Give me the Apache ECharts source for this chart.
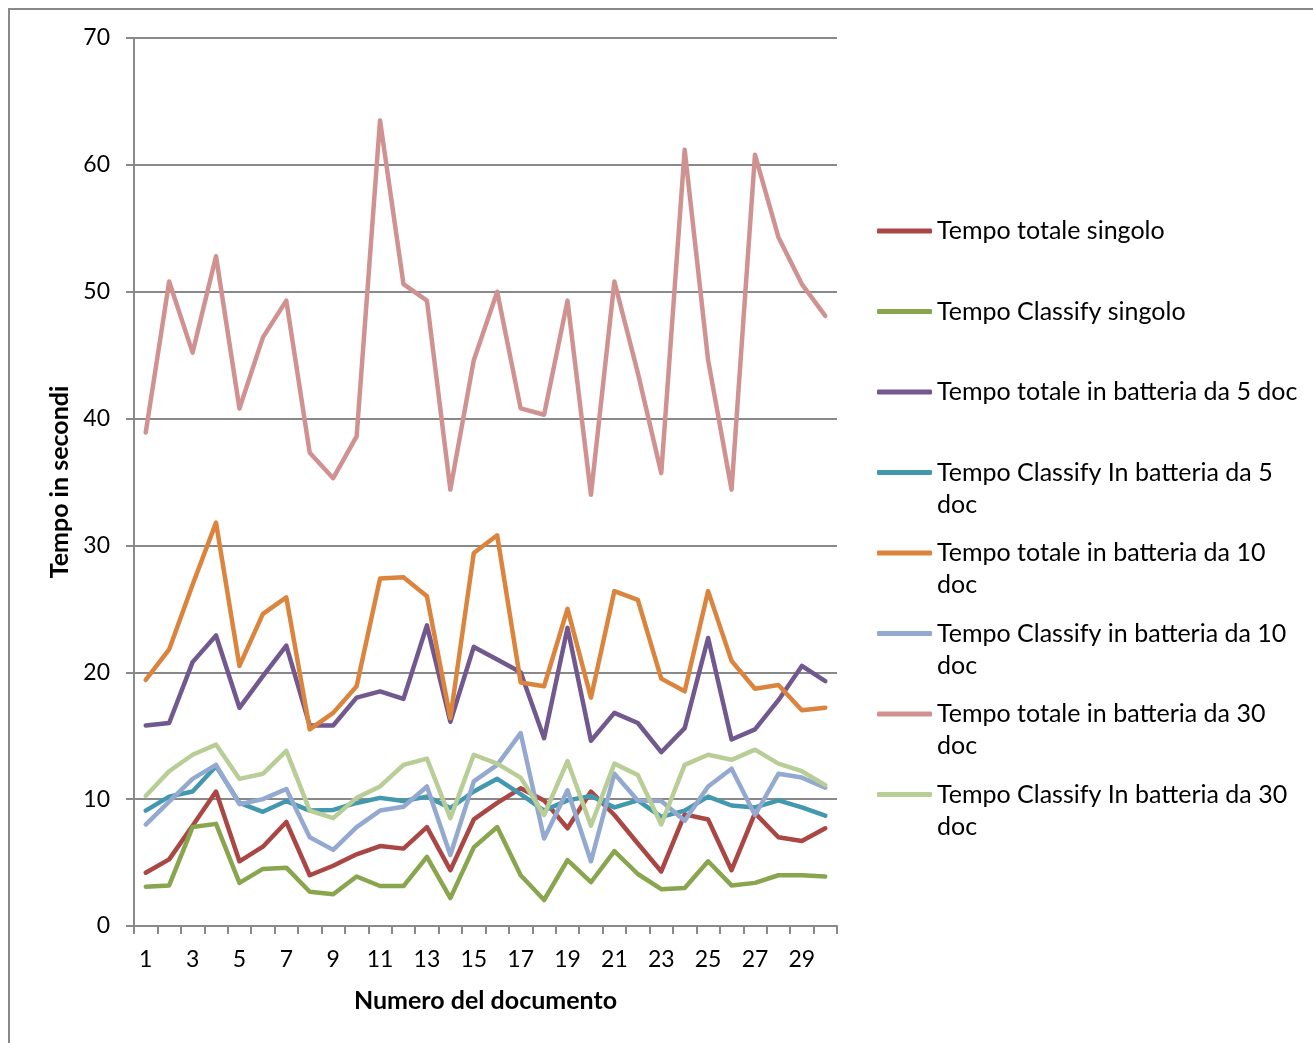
<!DOCTYPE html>
<html>
<head>
<meta charset="utf-8">
<script src="https://cdn.jsdelivr.net/npm/echarts@6/dist/echarts.min.js"></script>
<style>
html,body{margin:0;padding:0;background:#fff;}
#chart{width:1313px;height:1043px;}
</style>
</head>
<body>
<div id="chart"></div>
<script>
const categories = ['1','2','3','4','5','6','7','8','9','10','11','12','13','14','15','16','17','18','19','20','21','22','23','24','25','26','27','28','29','30'];

const seriesNames = [
  'Tempo totale singolo',
  'Tempo Classify singolo',
  'Tempo totale in batteria da 5 doc',
  'Tempo Classify In batteria da 5 doc',
  'Tempo totale in batteria da 10 doc',
  'Tempo Classify in batteria da 10 doc',
  'Tempo totale in batteria da 30 doc',
  'Tempo Classify In batteria da 30 doc'
];

// legend text, wrapped as in the reference
const legendLabels = [
  'Tempo totale singolo',
  'Tempo Classify singolo',
  'Tempo totale in batteria da 5 doc',
  'Tempo Classify In batteria da 5\ndoc',
  'Tempo totale in batteria da 10\ndoc',
  'Tempo Classify in batteria da 10\ndoc',
  'Tempo totale in batteria da 30\ndoc',
  'Tempo Classify In batteria da 30\ndoc'
];

const totaleSingolo = [4.2,5.25,7.9,10.6,5.1,6.25,8.2,4.0,4.75,5.65,6.3,6.1,7.8,4.4,8.4,9.7,10.85,9.9,7.7,10.6,8.75,6.5,4.3,8.8,8.4,4.4,8.9,7.0,6.7,7.7];
const classifySingolo = [3.1,3.2,7.8,8.05,3.4,4.5,4.6,2.7,2.5,3.9,3.15,3.15,5.45,2.2,6.2,7.8,4.0,2.05,5.2,3.45,5.9,4.1,2.9,3.0,5.1,3.2,3.4,4.0,4.0,3.9];
const totale5 = [15.8,16.0,20.8,22.9,17.2,19.7,22.1,15.8,15.8,18.0,18.5,17.9,23.7,16.1,22.0,21.0,20.0,14.8,23.5,14.6,16.8,16.0,13.7,15.6,22.7,14.7,15.5,17.8,20.5,19.3];
const classify5 = [9.1,10.2,10.6,12.6,9.7,9.0,9.85,9.1,9.15,9.7,10.1,9.85,10.2,9.3,10.6,11.6,10.4,9.1,9.9,10.25,9.35,9.9,8.6,9.1,10.2,9.5,9.35,9.9,9.35,8.7];
const totale10 = [19.4,21.8,26.9,31.8,20.5,24.6,25.9,15.5,16.8,18.9,27.4,27.5,26.0,16.4,29.4,30.8,19.2,18.9,25.0,18.0,26.4,25.7,19.5,18.5,26.4,20.9,18.7,19.0,17.0,17.2];
const classify10 = [8.0,9.8,11.6,12.7,9.6,10.0,10.8,7.0,6.0,7.8,9.1,9.4,11.0,5.6,11.4,12.7,15.2,6.9,10.7,5.1,12.0,9.9,9.85,8.3,11.0,12.4,8.75,12.0,11.7,10.9];
const totale30 = [38.9,50.8,45.2,52.8,40.8,46.4,49.3,37.3,35.3,38.6,63.5,50.6,49.3,34.4,44.6,50.0,40.8,40.3,49.3,34.0,50.8,43.6,35.7,61.2,44.6,34.4,60.8,54.3,50.6,48.1];
const classify30 = [10.25,12.2,13.5,14.3,11.6,12.0,13.8,9.1,8.5,10.1,11.0,12.7,13.2,8.5,13.5,12.8,11.7,8.75,13.0,7.9,12.8,11.9,8.0,12.7,13.5,13.1,13.9,12.8,12.2,11.1];

const yTicks = [0,10,20,30,40,50,60,70];

const allValues = [totaleSingolo, classifySingolo, totale5, classify5, totale10, classify10, totale30, classify30];
const colors = ['#AA4643','#89A54E','#71588F','#4198AF','#DB843D','#93A9CF','#D09291','#B9CD96'];

const FONT = 'Lato';
const LH = 32;
const GREY = '#898989';

const chart = echarts.init(document.getElementById('chart'));

// each legend entry is laid out as a 3-line block whose middle line is the first text line
function legendText(name) {
  const t = legendLabels[seriesNames.indexOf(name)];
  return t.indexOf('\n') >= 0 ? ' \n' + t : ' \n' + t + '\n ';
}

chart.setOption({
  animation: false,
  backgroundColor: '#fff',
  color: colors,
  graphic: [{
    type: 'rect',
    shape: {x: 9, y: 9, width: 1400, height: 1100},
    style: {fill: 'none', stroke: GREY, lineWidth: 2},
    silent: true,
    z: -10
  }],
  grid: {left: 134, right: 476, top: 38, bottom: 117},
  legend: {
    orient: 'vertical',
    left: 877,
    top: 183,
    padding: 0,
    itemGap: -15.5,
    itemWidth: 55,
    itemHeight: 5,
    icon: 'roundRect',
    data: seriesNames,
    formatter: legendText,
    textStyle: {fontFamily: FONT, fontSize: 25, color: '#000', lineHeight: LH}
  },
  xAxis: {
    type: 'category',
    data: categories,
    boundaryGap: true,
    name: 'Numero del documento',
    nameLocation: 'middle',
    nameGap: 62,
    nameTextStyle: {fontFamily: FONT, fontSize: 25, fontWeight: 'bold', color: '#000'},
    axisLine: {lineStyle: {color: GREY, width: 2}},
    axisTick: {show: true, interval: 0, length: 8, lineStyle: {color: GREY, width: 2}},
    axisLabel: {interval: 1, margin: 22, fontFamily: FONT, fontSize: 23, color: '#000'},
    splitLine: {show: false}
  },
  yAxis: {
    type: 'value',
    min: yTicks[0],
    max: yTicks[yTicks.length - 1],
    interval: 10,
    name: 'Tempo in secondi',
    nameLocation: 'middle',
    nameGap: 62,
    nameTextStyle: {fontFamily: FONT, fontSize: 25, fontWeight: 'bold', color: '#000'},
    axisLine: {show: true, lineStyle: {color: GREY, width: 2}},
    axisTick: {show: true, length: 8, lineStyle: {color: GREY, width: 2}},
    axisLabel: {margin: 24, fontFamily: FONT, fontSize: 23, color: '#000'},
    splitLine: {show: true, lineStyle: {color: GREY, width: 2}}
  },
  series: seriesNames.map((n, i) => ({
    name: n,
    type: 'line',
    data: allValues[i],
    symbol: 'none',
    showSymbol: false,
    lineStyle: {width: 4.5, color: colors[i], cap: 'round', join: 'round'},
    itemStyle: {color: colors[i]}
  }))
});
</script>
</body>
</html>
